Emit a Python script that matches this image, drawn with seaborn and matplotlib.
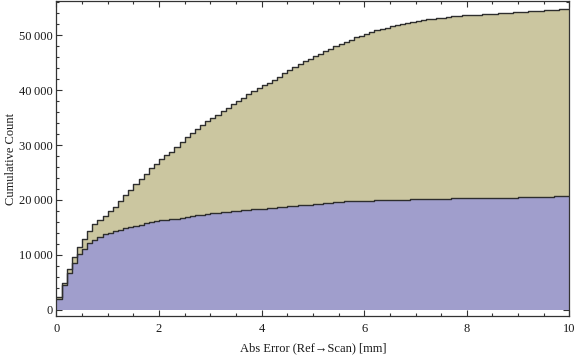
import numpy as np
import pandas as pd
import seaborn as sns
import matplotlib.pyplot as plt
from matplotlib.ticker import MultipleLocator, FuncFormatter

# 100 bins of 0.1 mm from 0 to 10
n_bins = 100
bin_range = (0, 10)

# cumulative counts, one per bin
all_cum = [2350, 4870, 7520, 9670, 11490, 12945, 14420, 15600, 16330, 17120,
           17970, 18760, 19850, 20820, 21850, 22870, 23850, 24760, 25750, 26640,
           27490, 28220, 28820, 29670, 30580, 31490, 32220, 32950, 33730, 34400,
           35000, 35545, 36220, 36760, 37420, 38030, 38640, 39240, 39850, 40450,
           41000, 41360, 41850, 42400, 43060, 43730, 44270, 44820, 45300, 45730,
           46270, 46640, 47180, 47545, 48090, 48400, 48760, 49200, 49640, 49910,
           50220, 50580, 50950, 51130, 51310, 51600, 51850, 51960, 52220, 52450,
           52640, 52820, 52900, 52980, 53100, 53160, 53310, 53420, 53520, 53580,
           53620, 53680, 53740, 53800, 53860, 53920, 53970, 54020, 54100, 54160,
           54220, 54300, 54360, 54420, 54470, 54540, 54590, 54640, 54760, 54840]

sub_cum = [1910, 4550, 6760, 8580, 10100, 11130, 12090, 12760, 13300, 13730,
           14060, 14270, 14580, 14850, 15090, 15300, 15500, 15750, 15940, 16120,
           16270, 16420, 16560, 16620, 16760, 16910, 17090, 17250, 17330, 17490,
           17620, 17700, 17820, 17890, 18000, 18080, 18170, 18230, 18280, 18370,
           18430, 18540, 18610, 18720, 18790, 18880, 18950, 19000, 19090, 19160,
           19260, 19340, 19440, 19520, 19620, 19700, 19780, 19810, 19840, 19860,
           19880, 19900, 19960, 19990, 20010, 20030, 20050, 20070, 20090, 20110,
           20130, 20160, 20180, 20200, 20220, 20240, 20260, 20280, 20300, 20320,
           20340, 20360, 20380, 20390, 20400, 20410, 20420, 20430, 20440, 20450,
           20460, 20480, 20500, 20520, 20540, 20580, 20620, 20650, 20680, 20700]

x_label = "Abs Error (Ref\u2192Scan) [mm]"
y_label = "Cumulative Count"

tan = "#cbc6a0"
blue = "#a09ecc"
edge = "#2e2e2e"

width = (bin_range[1] - bin_range[0]) / n_bins
centers = bin_range[0] + width * (np.arange(n_bins) + 0.5)
df = pd.DataFrame({
    "err": centers,
    "all": np.diff(all_cum, prepend=0),
    "sub": np.diff(sub_cum, prepend=0),
})

sns.set_style("ticks")
plt.rcParams["font.family"] = ["Liberation Serif", "DejaVu Serif"]

fig = plt.figure(figsize=(5.76, 3.57), dpi=100)
ax = fig.add_axes([0.098, 0.115, 0.8906, 0.882])

for col, c in [("all", tan), ("sub", blue)]:
    sns.histplot(data=df, x="err", weights=col, bins=n_bins, binrange=bin_range,
                 cumulative=True, element="step", fill=True, color=c, alpha=1,
                 linewidth=0, ax=ax)
    sns.histplot(data=df, x="err", weights=col, bins=n_bins, binrange=bin_range,
                 cumulative=True, element="step", fill=False, color=edge,
                 linewidth=1.0, ax=ax)

ax.set_xlim(0, 10)
ax.set_ylim(-1100, 56200)
ax.xaxis.set_major_locator(MultipleLocator(2))
ax.xaxis.set_minor_locator(MultipleLocator(0.5))
ax.yaxis.set_major_locator(MultipleLocator(10000))
ax.yaxis.set_minor_locator(MultipleLocator(2000))
ax.yaxis.set_major_formatter(FuncFormatter(lambda v, p: f"{int(v):,}".replace(",", "\u2009")))
ax.xaxis.set_major_formatter(FuncFormatter(lambda v, p: f"{int(v)}"))

ax.tick_params(which="both", direction="in", top=True, right=True, width=0.8,
               colors="#333333", labelcolor="#1a1a1a", labelsize=9)
ax.tick_params(which="major", length=4)
ax.tick_params(which="minor", length=2.3)
ax.tick_params(axis="y", pad=3)
ax.tick_params(axis="x", pad=5)
for s in ax.spines.values():
    s.set_color("#333333")
    s.set_linewidth(0.9)

ax.set_xlabel(x_label, fontsize=9, color="#1a1a1a")
ax.set_ylabel(y_label, fontsize=9, color="#1a1a1a")
ax.xaxis.set_label_coords(0.5, -0.085)
ax.yaxis.set_label_coords(-0.077, 0.5)

fig.savefig("out.png", dpi=100)
